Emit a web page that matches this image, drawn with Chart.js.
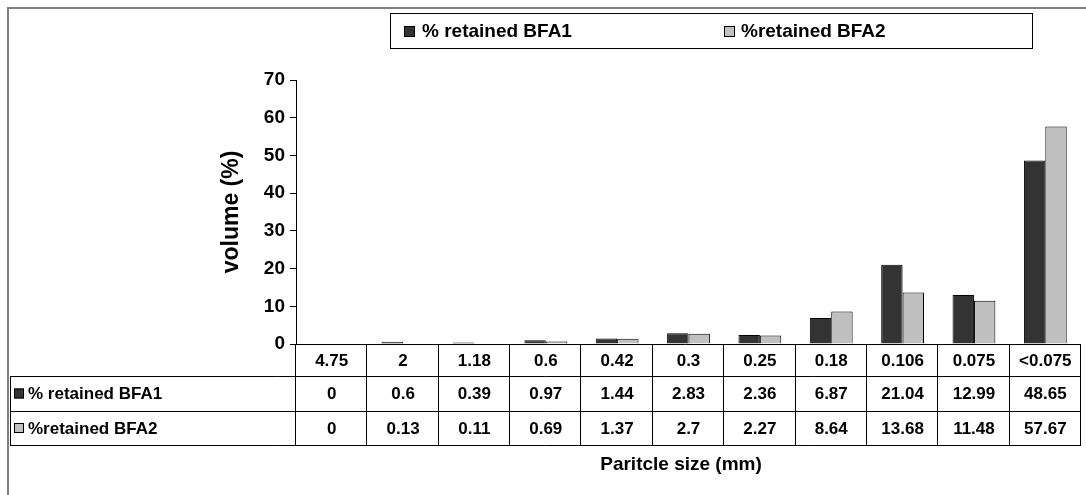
<!DOCTYPE html>
<html>
<head>
<meta charset="utf-8">
<script src="https://cdn.jsdelivr.net/npm/chart.js@4.4.1/dist/chart.umd.min.js"></script>
<style>
  html, body { margin: 0; padding: 0; background: #fff; }
  #wrap { width: 1086px; height: 495px; }
</style>
</head>
<body>
<div id="wrap"><canvas id="sizeChart" width="1086" height="495"></canvas></div>
<script>
// sieve sizes and % retained for each sample
var sizes = ['4.75', '2', '1.18', '0.6', '0.42', '0.3', '0.25', '0.18', '0.106', '0.075', '<0.075'];
var bfa1 = [0, 0.6, 0.39, 0.97, 1.44, 2.83, 2.36, 6.87, 21.04, 12.99, 48.65];
var bfa2 = [0, 0.13, 0.11, 0.69, 1.37, 2.7, 2.27, 8.64, 13.68, 11.48, 57.67];
var bfa1Label = '% retained BFA1';
var bfa2Label = '%retained BFA2';
var yTicks = [0, 10, 20, 30, 40, 50, 60, 70];

var FONT = '"Liberation Sans", Arial, Helvetica, sans-serif';
var DARK = '#333333';
var LIGHT = '#c0c0c0';

function swatch(ctx, x, y, s, fill) {
    ctx.fillStyle = fill;
    ctx.fillRect(x, y, s, s);
    ctx.strokeStyle = '#000';
    ctx.lineWidth = 1;
    ctx.strokeRect(x + 0.5, y + 0.5, s - 1, s - 1);
}

// frame, legend box, data table and x title
var extras = {
    id: 'extras',
    afterDraw: function (chart) {
        var ctx = chart.ctx;
        var xs = chart.scales.x;
        var area = chart.chartArea;
        var n = sizes.length;
        var colW = (area.right - area.left) / n;

        ctx.save();

        // outer frame
        ctx.strokeStyle = '#808080';
        ctx.lineWidth = 2;
        ctx.strokeRect(8, 8, 1100, 500);

        // legend
        ctx.strokeStyle = '#000';
        ctx.lineWidth = 1;
        ctx.strokeRect(390.5, 13.5, 642, 35);
        ctx.font = 'bold 19px ' + FONT;
        ctx.textBaseline = 'middle';
        ctx.textAlign = 'left';
        swatch(ctx, 404, 26, 11, DARK);
        ctx.fillStyle = '#000';
        ctx.fillText(bfa1Label, 422, 32);
        swatch(ctx, 724, 26, 11, LIGHT);
        ctx.fillStyle = '#000';
        ctx.fillText(bfa2Label, 741, 32);

        // data table
        var top = area.bottom;
        var r1 = top + 32, r2 = r1 + 35, r3 = r2 + 34;
        var left = 10;
        ctx.strokeStyle = '#000';
        ctx.lineWidth = 1;
        ctx.beginPath();
        ctx.moveTo(area.left - 6, top + 0.5); ctx.lineTo(area.right, top + 0.5);
        ctx.moveTo(left, r1 + 0.5); ctx.lineTo(area.right, r1 + 0.5);
        ctx.moveTo(left, r2 + 0.5); ctx.lineTo(area.right, r2 + 0.5);
        ctx.moveTo(left, r3 + 0.5); ctx.lineTo(area.right, r3 + 0.5);
        ctx.moveTo(left + 0.5, r1); ctx.lineTo(left + 0.5, r3);
        for (var i = 0; i <= n; i++) {
            var bx = Math.round(area.left + i * colW) - 0.5;
            ctx.moveTo(bx, top); ctx.lineTo(bx, r3);
        }
        ctx.stroke();

        ctx.font = 'bold 17px ' + FONT;
        ctx.textAlign = 'center';
        ctx.fillStyle = '#000';
        for (var j = 0; j < n; j++) {
            var cx = xs.getPixelForValue(j);
            ctx.fillText(sizes[j], cx, (top + r1) / 2 + 1);
            ctx.fillText(String(bfa1[j]), cx, (r1 + r2) / 2 + 1);
            ctx.fillText(String(bfa2[j]), cx, (r2 + r3) / 2 + 1);
        }

        ctx.textAlign = 'left';
        swatch(ctx, 14, (r1 + r2) / 2 - 5, 10, DARK);
        ctx.fillStyle = '#000';
        ctx.fillText(bfa1Label, 28, (r1 + r2) / 2 + 1);
        swatch(ctx, 14, (r2 + r3) / 2 - 5, 10, LIGHT);
        ctx.fillStyle = '#000';
        ctx.fillText(bfa2Label, 28, (r2 + r3) / 2 + 1);

        // x axis title
        ctx.font = 'bold 19px ' + FONT;
        ctx.textAlign = 'center';
        ctx.fillText('Paritcle size (mm)', 681, r3 + 20);

        ctx.restore();
    }
};

var ctx = document.getElementById('sizeChart').getContext('2d');
var chart = new Chart(ctx, {
    type: 'bar',
    data: {
        labels: sizes,
        datasets: [{
            label: bfa1Label,
            data: bfa1,
            backgroundColor: DARK,
            borderColor: '#000',
            borderWidth: 1,
            categoryPercentage: 0.6,
            barPercentage: 1.0
        }, {
            label: bfa2Label,
            data: bfa2,
            backgroundColor: LIGHT,
            borderColor: '#000',
            borderWidth: 1,
            categoryPercentage: 0.6,
            barPercentage: 1.0
        }]
    },
    options: {
        responsive: false,
        animation: false,
        layout: {
            padding: { left: 218, right: 5, top: 80, bottom: 151 }
        },
        plugins: {
            legend: { display: false },
            tooltip: { enabled: false }
        },
        scales: {
            x: {
                display: false
            },
            y: {
                min: 0,
                max: 70,
                afterFit: function (scale) { scale.width = 78; },
                afterBuildTicks: function (scale) {
                    scale.ticks = yTicks.map(function (v) { return { value: v }; });
                },
                border: { display: true, color: '#000', width: 1 },
                grid: {
                    display: true,
                    drawOnChartArea: false,
                    drawTicks: true,
                    tickLength: 6,
                    color: '#000'
                },
                ticks: {
                    color: '#000',
                    padding: 5,
                    font: { family: FONT, size: 19, weight: 'bold' }
                },
                title: {
                    display: true,
                    text: 'volume (%)',
                    color: '#000',
                    font: { family: FONT, size: 23, weight: 'bold' },
                    padding: 0
                }
            }
        }
    },
    plugins: [extras]
});
</script>
</body>
</html>
